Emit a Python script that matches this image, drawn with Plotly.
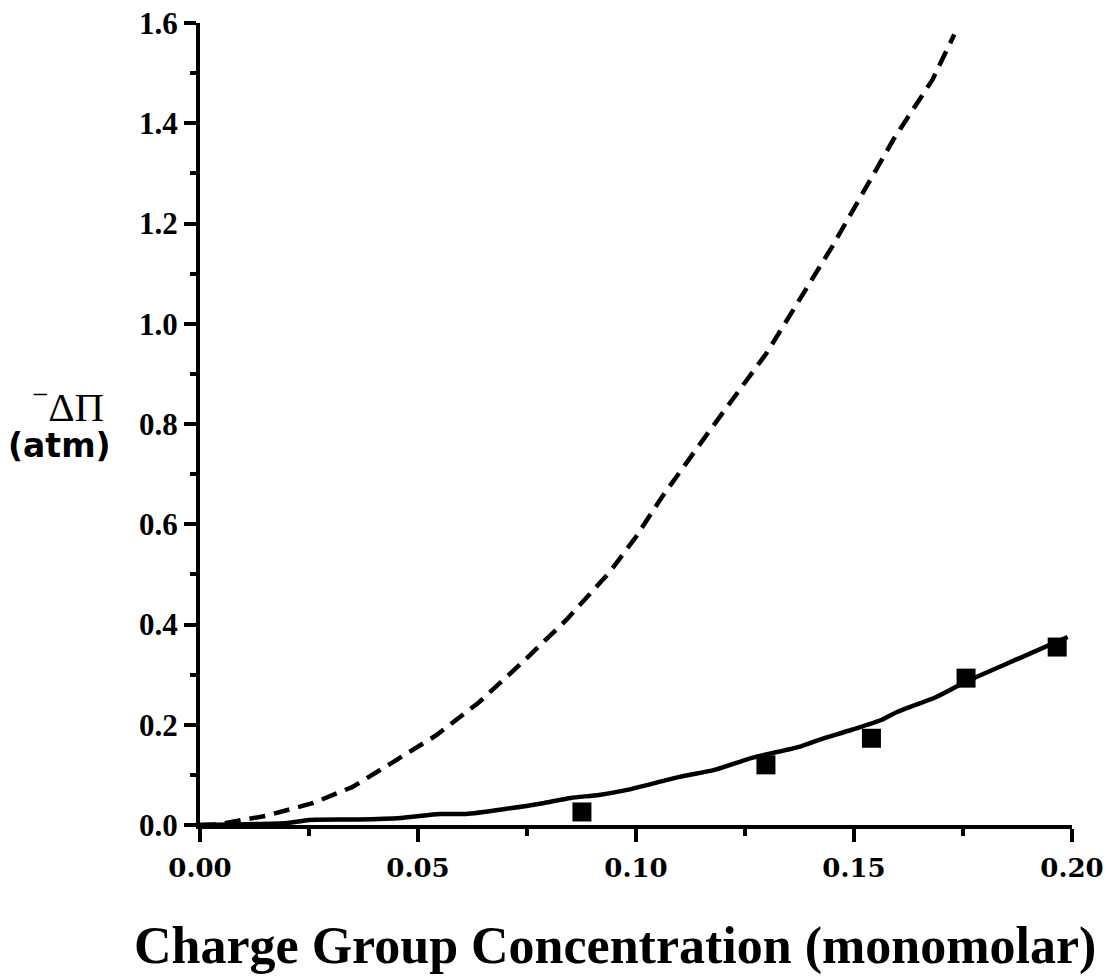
import plotly.graph_objects as go

# Data
dashed_x = [0, 0.004, 0.0096, 0.015, 0.026, 0.035, 0.044, 0.054, 0.064, 0.074, 0.084,
            0.094, 0.100, 0.106, 0.117, 0.130, 0.145, 0.159, 0.168, 0.173]
dashed_y = [0, 0.001, 0.010, 0.018, 0.044, 0.076, 0.124, 0.178, 0.245, 0.325, 0.409,
            0.505, 0.575, 0.655, 0.788, 0.942, 1.154, 1.367, 1.487, 1.577]

solid_x = [0, 0.020, 0.025, 0.036, 0.046, 0.055, 0.061, 0.070, 0.079, 0.085, 0.0915,
           0.098, 0.110, 0.118, 0.1266, 0.1374, 0.142, 0.1495, 0.1564, 0.160, 0.169,
           0.1757, 0.188, 0.199]
solid_y = [0, 0.004, 0.010, 0.011, 0.014, 0.022, 0.022, 0.032, 0.044, 0.054, 0.060,
           0.070, 0.096, 0.110, 0.134, 0.156, 0.170, 0.190, 0.210, 0.226, 0.256,
           0.286, 0.333, 0.375]

meas_x = [0.0876, 0.1298, 0.154, 0.1757, 0.1966]
meas_y = [0.026, 0.120, 0.173, 0.293, 0.355]

x_ticks = [0.00, 0.05, 0.10, 0.15, 0.20]
x_ticktext = ["0.00", "0.05", "0.10", "0.15", "0.20"]
y_ticks = [0.0, 0.2, 0.4, 0.6, 0.8, 1.0, 1.2, 1.4, 1.6]
y_ticktext = ["0.0", "0.2", "0.4", "0.6", "0.8", "1.0", "1.2", "1.4", "1.6"]

fig = go.Figure()
fig.add_trace(go.Scatter(x=dashed_x, y=dashed_y, mode="lines",
                         line=dict(color="black", width=4.5, dash="16px,9px"),
                         showlegend=False, cliponaxis=False))
fig.add_trace(go.Scatter(x=solid_x, y=solid_y, mode="lines",
                         line=dict(color="black", width=4.5, shape="spline", smoothing=0.6),
                         showlegend=False, cliponaxis=False))
fig.add_trace(go.Scatter(x=meas_x, y=meas_y, mode="markers",
                         marker=dict(symbol="square", size=19, color="black"),
                         showlegend=False, cliponaxis=False))

fig.update_layout(
    width=1112, height=977,
    margin=dict(l=200, r=40, t=23, b=152),
    plot_bgcolor="white", paper_bgcolor="white",
    xaxis=dict(range=[0, 0.2], showgrid=False, zeroline=False, automargin=False,
               showline=True, linecolor="black", linewidth=4,
               ticks="outside", ticklen=13, tickwidth=3.5, tickcolor="black",
               tickvals=x_ticks, ticktext=x_ticktext, ticklabelstandoff=4,
               tickfont=dict(family="DejaVu Serif", size=26, color="black", weight="bold"),
               minor=dict(ticks="outside", ticklen=7, tickwidth=3.5, tickcolor="black",
                          dtick=0.025)),
    yaxis=dict(range=[0, 1.6], showgrid=False, zeroline=False, automargin=False,
               showline=True, linecolor="black", linewidth=4,
               ticks="outside", ticklen=12, tickwidth=3.5, tickcolor="black",
               tickvals=y_ticks, ticktext=y_ticktext, ticklabelstandoff=0,
               tickfont=dict(family="Liberation Serif", size=31, color="black", weight="bold"),
               minor=dict(ticks="outside", ticklen=6, tickwidth=3.5, tickcolor="black",
                          dtick=0.1)),
)

fig.add_annotation(text="Charge Group Concentration (monomolar)",
                   xref="paper", yref="paper",
                   x=(615 - 200) / 872, y=-(946 - 825) / 802,
                   xanchor="center", yanchor="middle", showarrow=False,
                   font=dict(family="Liberation Serif", size=52, color="black", weight="bold"))
fig.add_annotation(text="<sup>−</sup>ΔΠ",
                   xref="paper", yref="paper",
                   x=(68 - 200) / 872, y=(825 - 404) / 802,
                   xanchor="center", yanchor="middle", showarrow=False,
                   font=dict(family="Liberation Serif", size=41, color="black"))
fig.add_annotation(text="(atm)",
                   xref="paper", yref="paper",
                   x=(59 - 200) / 872, y=(825 - 445) / 802,
                   xanchor="center", yanchor="middle", showarrow=False,
                   font=dict(family="DejaVu Sans", size=33, color="black", weight="bold"))

fig.write_html("out.html")
